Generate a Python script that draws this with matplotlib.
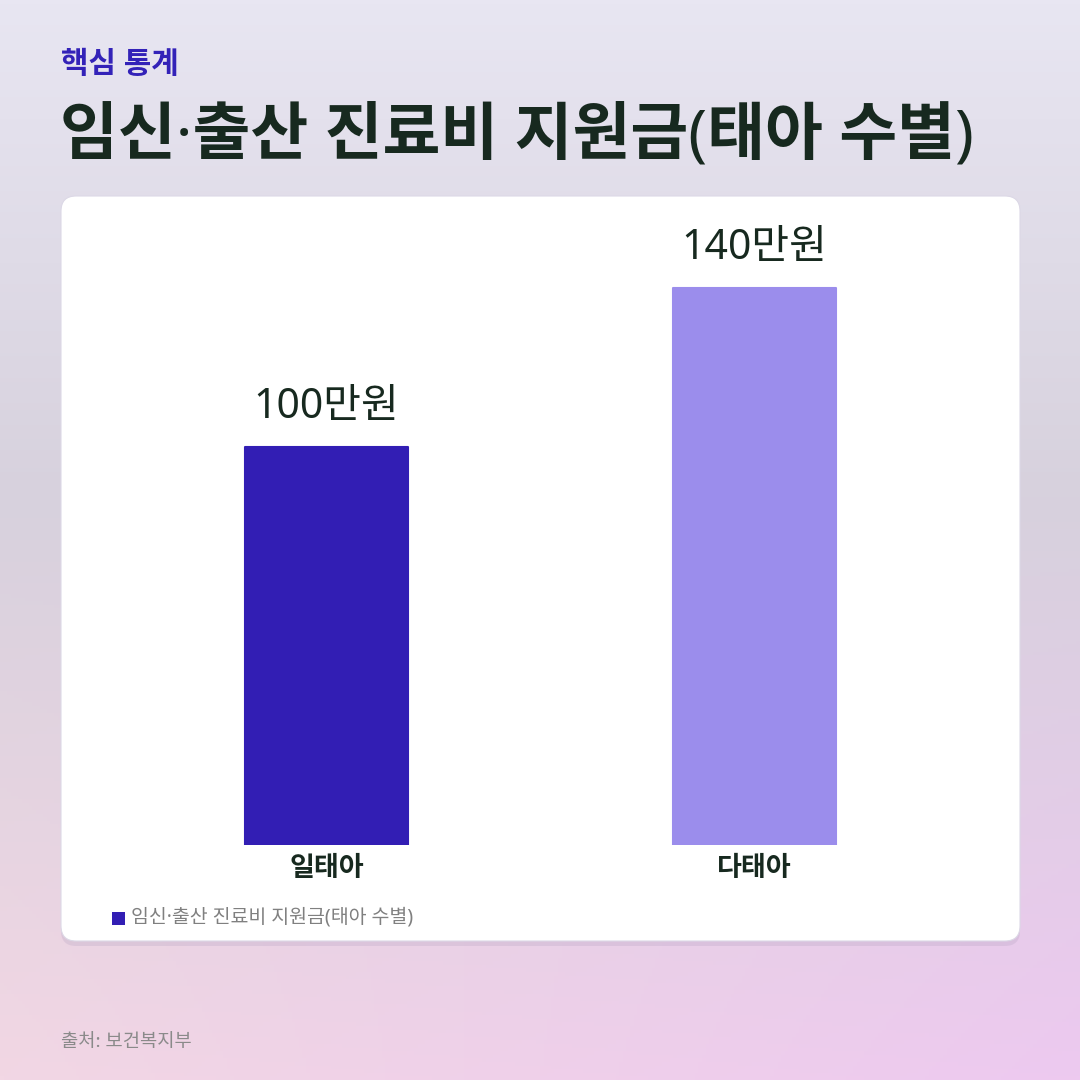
import numpy as np
import matplotlib.pyplot as plt
from matplotlib.patches import FancyBboxPatch, Rectangle

# Noto Sans first for latin / middle dot, CJK for hangul
plt.rcParams['font.family'] = ['Noto Sans', 'Noto Sans CJK KR', 'DejaVu Sans']

# data
categories = ['일태아', '다태아']
values = [100, 140]
value_labels = ['100만원', '140만원']
bar_colors = ['#321EB4', '#9B8DEC']
series_name = '임신·출산 진료비 지원금(태아 수별)'
kicker = '핵심 통계'
title = '임신·출산 진료비 지원금(태아 수별)'
source = '출처: 보건복지부'

W, H = 1080, 1080
fig = plt.figure(figsize=(W / 100, H / 100), dpi=100)

# background gradient
bg = fig.add_axes([0, 0, 1, 1])
bg.set_axis_off()
yy = np.linspace(0, 1, 300)[:, None]
xx = np.linspace(0, 1, 300)[None, :]
top = np.array([232, 230, 242]) / 255
mid = np.array([215, 209, 221]) / 255
bot_l = np.array([242, 215, 228]) / 255
bot_r = np.array([237, 201, 240]) / 255
t = np.clip((yy - 0.0) / 0.46, 0, 1)[..., None]
u = np.clip((yy - 0.46) / 0.54, 0, 1)[..., None]
bot = bot_l + (bot_r - bot_l) * xx[..., None]
upper = top + (mid - top) * t
img = np.where((yy < 0.46)[..., None], upper, mid + (bot - mid) * u)
img = np.broadcast_to(img, (300, 300, 3))
bg.imshow(img, extent=[0, 1, 0, 1], origin='upper', aspect='auto', zorder=0)
bg.set_xlim(0, 1)
bg.set_ylim(0, 1)

def fx(px):
    return px / W

def fy(py):
    return 1 - py / H

# card shadow + card
shadow = FancyBboxPatch((fx(61), fy(946)), fx(1020 - 61), (946 - 201) / H,
                        boxstyle='round,pad=0,rounding_size=0.014',
                        transform=fig.transFigure, facecolor='#b9a6c4',
                        alpha=0.3, edgecolor='none', zorder=1)
fig.patches.append(shadow)
card = FancyBboxPatch((fx(61), fy(941)), fx(1020 - 61), (941 - 196) / H,
                      boxstyle='round,pad=0,rounding_size=0.014',
                      transform=fig.transFigure, facecolor='white',
                      edgecolor='#dcd8e6', linewidth=0.8, zorder=2)
fig.patches.append(card)

# texts
fig.text(fx(61), fy(66), kicker, fontsize=21.5, fontweight='bold',
         color='#3322B8', va='center', ha='left')
fig.text(fx(60), fy(137), title, fontsize=45.3, fontweight='bold',
         color='#17291F', va='center', ha='left')
fig.text(fx(61), fy(1042), source, fontsize=13.5, color='#8a8a8a',
         va='center', ha='left')

# chart axes: baseline at y=845 px, 3.98 px per unit
scale = 3.98
ymax = 160
ax_h = ymax * scale
ax = fig.add_axes([fx(112.5), fy(845), fx(968.5 - 112.5), ax_h / H])
ax.set_zorder(3)
ax.patch.set_alpha(0)
x = np.arange(len(categories))
bars = ax.bar(x, values, width=0.381, color=bar_colors,
              edgecolor=bar_colors, linewidth=1.5, joinstyle='round')
ax.set_xlim(-0.5, 1.5)
ax.set_ylim(0, ymax)
for xi, v, lab in zip(x, values, value_labels):
    ax.annotate(lab, (xi, v), xytext=(0, 40), textcoords='offset pixels',
                ha='center', va='center', fontsize=29.5, fontweight='medium',
                color='#17291F')
ax.set_xticks(x)
ax.set_xticklabels(categories, fontsize=19.5, fontweight='bold', color='#17291F')
ax.tick_params(axis='x', length=0, pad=7)
ax.set_yticks([])
for s in ax.spines.values():
    s.set_visible(False)

# legend
fig.patches.append(Rectangle((fx(112), fy(925)), fx(13), 13 / H,
                             transform=fig.transFigure, facecolor=bar_colors[0],
                             edgecolor='none', zorder=4))
fig.text(fx(131), fy(918), series_name, fontsize=14, color='#808080',
         va='center', ha='left', zorder=4)

fig.savefig('out.png', dpi=100)
